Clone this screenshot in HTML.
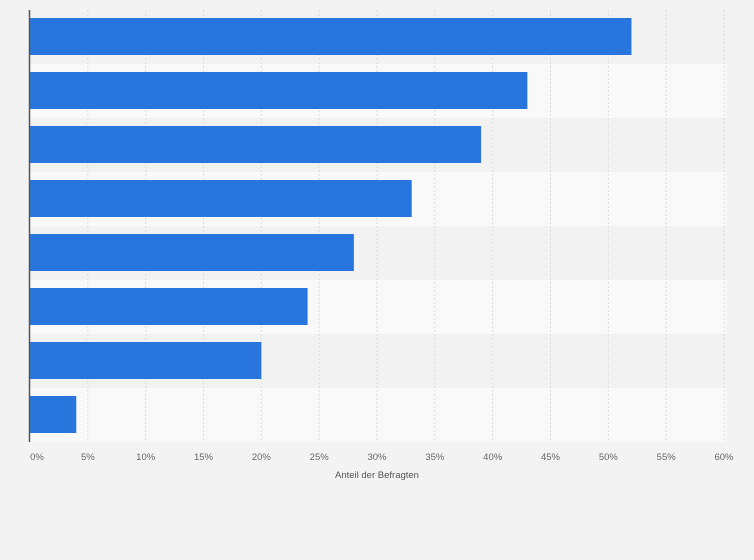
<!DOCTYPE html>
<html><head><meta charset="utf-8"><style>
body{margin:0;background:#f3f3f3;font-family:"Liberation Sans",sans-serif}
svg{display:block}
</style></head><body>
<svg id="c" width="754" height="560"></svg>
<script>
const categories=["A","B","C","D","E","F","G","H"];
const values=[52,43,39,33,28,24,20,4];
const ticks=[0,5,10,15,20,25,30,35,40,45,50,55,60];
const NS="http://www.w3.org/2000/svg";
const svgEl=document.getElementById("c");
const x0=30,x1=724,plotTop=10,rowH=54,xmax=60;
const xs=v=>x0+(v/xmax)*(x1-x0);
function mk(t,a){const e=document.createElementNS(NS,t);for(const k in a)e.setAttribute(k,a[k]);svgEl.appendChild(e);return e;}
categories.forEach((c,i)=>{
  const r=mk("rect",{x:x0,y:plotTop+i*rowH,width:x1-x0+2,height:rowH,fill:i%2?"#f9f9f9":"#f2f2f2"});
  
  
});
ticks.forEach(t=>{
  if(t===0)return;
  const l=mk("line",{x1:xs(t),x2:xs(t),y1:plotTop,y2:plotTop+rowH*categories.length,stroke:"#dcdcdc","stroke-dasharray":"2,2"});
  
  
});
categories.forEach((c,i)=>{
  const b=mk("rect",{x:x0,y:plotTop+i*rowH+8,width:xs(values[i])-x0,height:37,fill:"#2876dd"});
  
  
});
const ax=mk("line",{x1:29.5,x2:29.5,y1:plotTop,y2:plotTop+rowH*categories.length,stroke:"#555","stroke-width":1.5});


ticks.forEach(t=>{
  const tx=mk("text",{x:t===0?37:xs(t),y:460,"font-size":9.5,fill:"#666","text-anchor":"middle"});
  tx.textContent=t+"%";
  
  
});
const tt=mk("text",{x:377,y:478,"font-size":9.5,fill:"#555","text-anchor":"middle"});
tt.textContent="Anteil der Befragten";


</script>
</body></html>
